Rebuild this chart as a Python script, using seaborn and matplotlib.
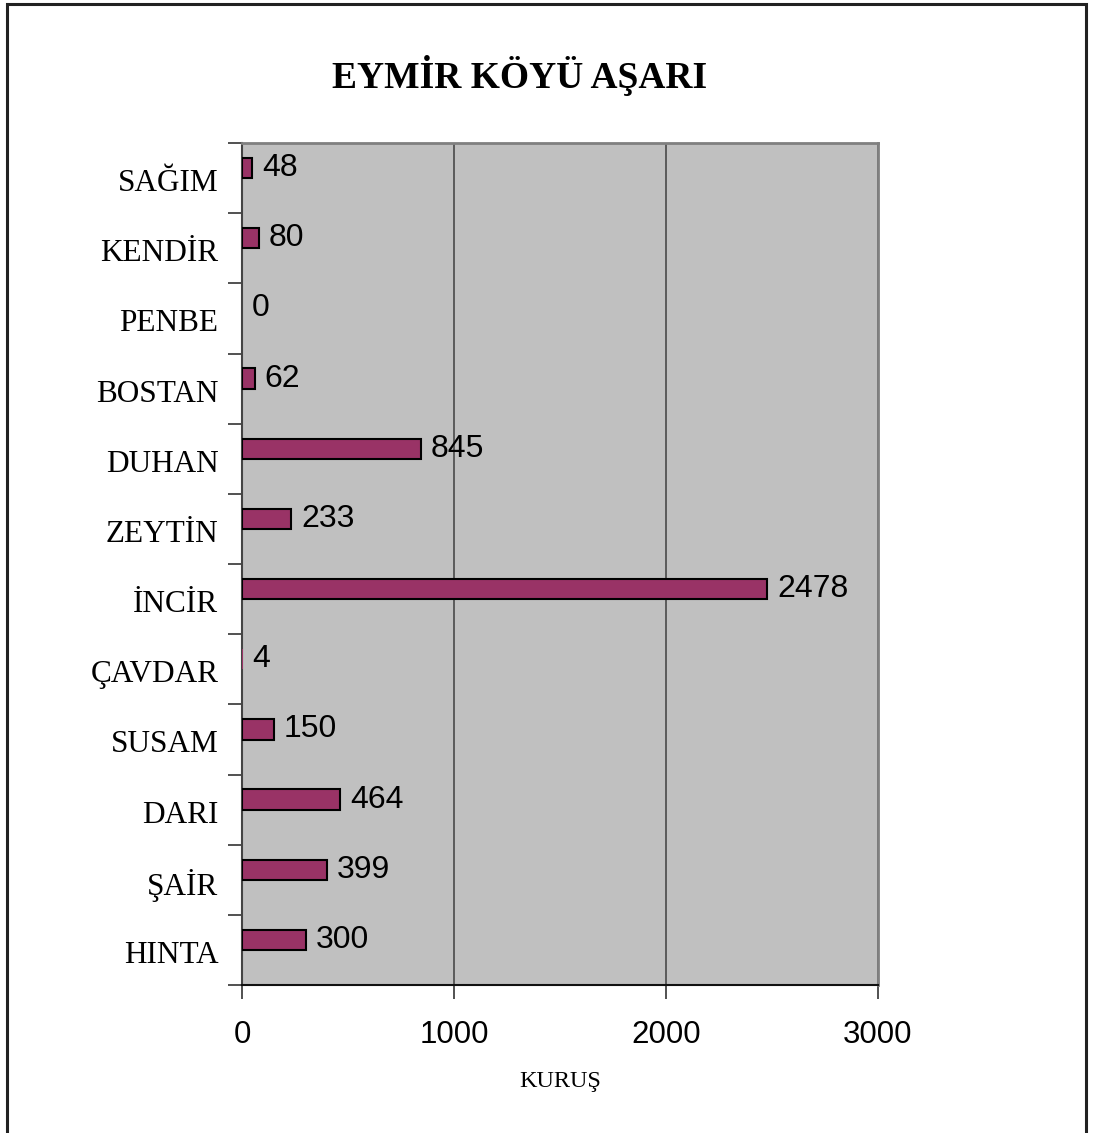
import matplotlib
matplotlib.use("Agg")
import matplotlib.pyplot as plt
import matplotlib.transforms as mtransforms
from matplotlib.patches import Rectangle
import seaborn as sns
import pandas as pd
import numpy as np

categories = ["SAĞIM", "KENDİR", "PENBE", "BOSTAN", "DUHAN", "ZEYTİN",
              "İNCİR", "ÇAVDAR", "SUSAM", "DARI", "ŞAİR", "HINTA"]
values = [48, 80, 0, 62, 845, 233, 2478, 4, 150, 464, 399, 300]
x_ticks = [0, 1000, 2000, 3000]
title = "EYMİR KÖYÜ AŞARI"
x_label = "KURUŞ"

df = pd.DataFrame({"crop": categories, "kurus": values})

sns.set_theme(style="white")
plt.rcParams.update({"text.color": "black", "xtick.color": "black",
                     "ytick.color": "black", "axes.labelcolor": "black"})
serif = ["Liberation Serif", "DejaVu Serif"]
sans = ["Liberation Sans", "DejaVu Sans"]

W, H = 1093, 1133
fig = plt.figure(figsize=(W / 100, H / 100), dpi=100)
ax = fig.add_axes([242 / W, 1 - 985 / H, (878 - 242) / W, (985 - 143) / H])

sns.barplot(data=df, x="kurus", y="crop", order=categories, orient="h",
            color="#993366", saturation=1, width=0.29,
            edgecolor="black", linewidth=1.5, ax=ax, zorder=3)

for p in ax.patches:
    if p.get_width() < 10:
        p.set_edgecolor("none")

n = len(categories)
off = 10 / 70
ax.set_ylim(n - 0.5 + off, -0.5 + off)
ax.set_xlim(x_ticks[0], x_ticks[-1])
ax.set_facecolor("#C0C0C0")

ax.set_xticks(x_ticks)
ax.set_xticklabels([str(t) for t in x_ticks], fontsize=22.5, family=sans)
ax.xaxis.grid(True, color="#4a4a4a", linewidth=1.2, zorder=1)
ax.set_axisbelow(True)

# y tick marks at category boundaries, labels shifted to band centers
ax.set_yticks(np.arange(n))
ax.set_yticklabels(categories, fontsize=22.5, family=serif)
ax.set_yticks(np.arange(-1, n) + 0.5 + off, minor=True)
ax.tick_params(axis="y", which="major", length=0, pad=17)
ax.tick_params(axis="y", which="minor", length=10, width=1.2, color="#333333", left=True)
ax.tick_params(axis="x", length=10, width=1.2, color="#333333", bottom=True, pad=15)
shift = mtransforms.ScaledTranslation(0, -12 / 100, fig.dpi_scale_trans)
for lab in ax.get_yticklabels():
    lab.set_transform(lab.get_transform() + shift)

for side in ["top", "right"]:
    ax.spines[side].set_color("#808080")
    ax.spines[side].set_linewidth(2)
ax.spines["left"].set_color("#444444")
ax.spines["left"].set_linewidth(1.5)
ax.spines["bottom"].set_color("#111111")
ax.spines["bottom"].set_linewidth(1.5)
for s in ax.spines.values():
    s.set_visible(True)

for cont in ax.containers:
    ax.bar_label(cont, labels=[str(v) for v in values], padding=7,
                 fontsize=23, family=sans, color="black")

ax.set_ylabel("")
ax.set_xlabel("")
fig.text(560 / W, 1 - 1081 / H, x_label, ha="center", va="center",
         fontsize=17.5, family=serif)
fig.text(520 / W, 1 - 75 / H, title, ha="center", va="center",
         fontsize=27, fontweight="bold", family=serif)

fig.patches.append(Rectangle((7 / W, -0.05), (1086 - 7) / W, 1.05 - 4 / H,
                             transform=fig.transFigure, fill=False,
                             edgecolor="#222222", linewidth=2.2))

fig.savefig("out.png", dpi=100, facecolor="white")
